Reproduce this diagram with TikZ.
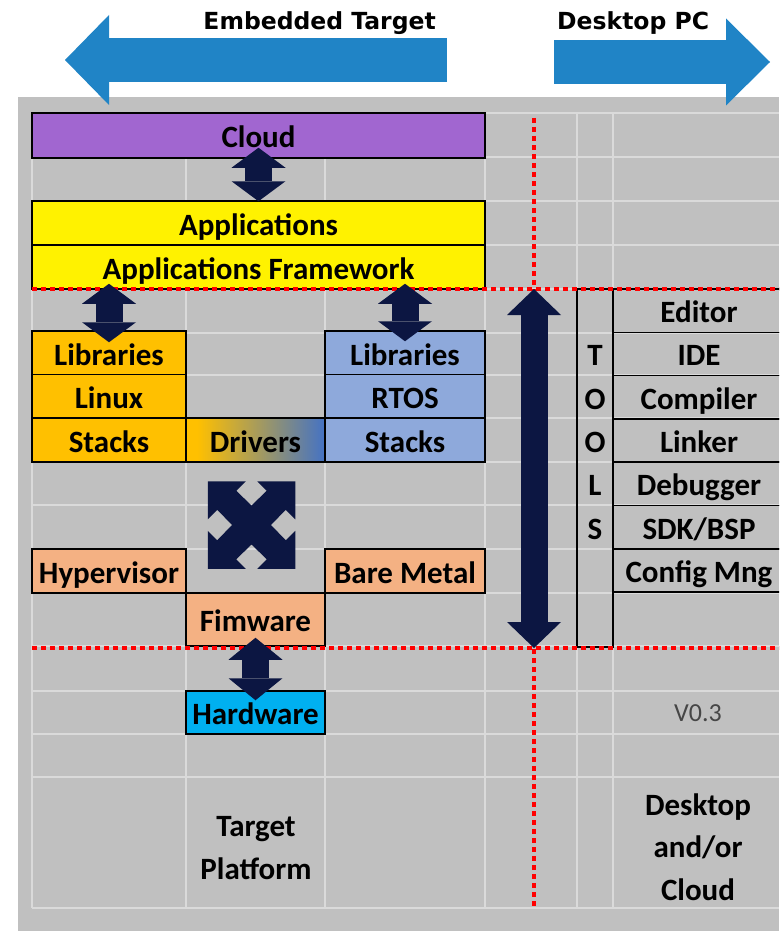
\documentclass[tikz,border=0pt]{standalone}
\usepackage{fontspec}
\setmainfont{Carlito}
\newfontfamily\headfont{DejaVu Sans}
\usepackage{xcolor}
\usepackage{tikz}
\usetikzlibrary{arrows.meta, calc}
\definecolor{panel}{RGB}{192,192,192}
\definecolor{gridgrey}{RGB}{218,218,218}
\definecolor{navy}{RGB}{12,22,66}
\definecolor{sky}{RGB}{32,132,198}
\definecolor{cloudpurple}{RGB}{161,102,208}
\definecolor{ambr}{RGB}{255,192,0}
\definecolor{rtosblue}{RGB}{142,169,219}
\definecolor{steel}{RGB}{68,114,196}
\definecolor{salmon}{RGB}{244,177,131}
\definecolor{hwcyan}{RGB}{0,176,240}
\definecolor{vergrey}{RGB}{70,70,70}
\pgfdeclarehorizontalshading{drivershade}{100bp}{color(0bp)=(ambr); color(29bp)=(ambr); color(75bp)=(steel); color(100bp)=(steel)}
\newcommand\lbl{\fontsize{31}{31}\selectfont\bfseries}
\newcommand\hdr{\headfont\fontsize{23.5}{24}\selectfont\bfseries}
\tikzset{
    cell/.style={draw=black, line width=1.5pt, inner sep=0pt, minimum height=44pt,
        text height=25pt, text depth=1pt, font=\lbl},
    letter/.style={inner sep=0pt, text height=25pt, text depth=1pt, font=\lbl},
    gridline/.style={gridgrey, line width=2pt},
    divider/.style={red, line width=4.5pt, dash pattern=on 5pt off 4pt},
    link/.style={navy, line width=27pt,
        {Triangle[width=54pt, length=#1, line width=0pt]}-{Triangle[width=54pt, length=#1, line width=0pt]}},
    link/.default=20pt,
    banner/.style={sky, line width=44pt, -{Triangle[width=#1, length=44pt, line width=0pt]}},
    caption/.style={inner sep=0pt, font=\hdr},
}

\begin{document}
\begin{tikzpicture}[x=1pt, y=-1pt]
    \useasboundingbox (0,0) rectangle (779,931);
    \clip (0,0) rectangle (779,931);
    \fill[panel] (18,97) rectangle (779,931);
    \foreach \x in {32,186,325,485,577,613} \draw[gridline] (\x,113) -- (\x,908);
    \foreach \y in {113,157,201,245,289,333,375,418,462,505,549,593,646,691,734,777,908}
        \draw[gridline] (32,\y) -- (779,\y);

    \coordinate (embtail) at (447,60);
    \coordinate (embtip) at (65,60);
    \coordinate (pctail) at (554,62);
    \coordinate (pctip) at (770,62);
    \draw[banner=90pt] (embtail) -- (embtip);
    \draw[banner=87pt] (pctail) -- (pctip);
    \node[caption, anchor=base east] (embtext) at (436,30) {Embedded Target};
    \node[caption, anchor=base west] (pctext) at (557,30) {Desktop PC};

    \node[cell, fill=cloudpurple, minimum width=453pt, minimum height=45pt] (cloud) at (258.5,135.5) {Cloud};
    \node[cell, fill=yellow, minimum width=453pt] (apps) at (258.5,223) {Applications};
    \node[cell, fill=yellow, minimum width=453pt] (frame) at (258.5,267) {Applications Framework};
    \foreach \name/\txt/\y in {libL/Libraries/353, linux/Linux/396.5, stackL/Stacks/440}
        \node[cell, fill=ambr, minimum width=154pt] (\name) at (109,\y) {\txt};
    \foreach \name/\txt/\y in {libR/Libraries/353, rtos/RTOS/396.5, stackR/Stacks/440}
        \node[cell, fill=rtosblue, minimum width=160pt] (\name) at (405,\y) {\txt};
    \node[cell, shade, shading=drivershade, minimum width=139pt] (drivers) at (255.5,440) {Drivers};
    \node[cell, fill=salmon, minimum width=154pt] (hyper) at (109,571) {Hypervisor};
    \node[cell, fill=salmon, minimum width=160pt] (bare) at (405,571) {Bare Metal};
    \node[cell, fill=salmon, minimum width=139pt, minimum height=53pt] (firm) at (255.5,619.5) {Fimware};
    \node[cell, fill=hwcyan, minimum width=139pt, minimum height=43pt] (hard) at (255.5,712.5) {Hardware};

    \coordinate (quad) at (251.5,525);
    \fill[navy, shift={(quad)}] (-43.75,-43.75) -- (-5.75,-43.75) -- (-15.25,-34.25) -- (0,-19.5)
        -- (15.25,-34.25) -- (5.75,-43.75) -- (43.75,-43.75) -- (43.75,-5.75) -- (34.25,-15.25)
        -- (19.5,0) -- (34.25,15.25) -- (43.75,5.75) -- (43.75,43.75) -- (5.75,43.75)
        -- (15.25,34.25) -- (0,19.5) -- (-15.25,34.25) -- (-5.75,43.75) -- (-43.75,43.75)
        -- (-43.75,5.75) -- (-34.25,15.25) -- (-19.5,0) -- (-34.25,-15.25) -- (-43.75,-5.75) -- cycle;

    \node[draw=black, line width=1.5pt, inner sep=0pt, minimum width=36pt, minimum height=358pt] (tools) at (595,468) {};
    \foreach \txt [count=\i from 0] in {Editor,IDE,Compiler,Linker,Debugger,SDK/BSP,Config Mng}
        \node[cell, minimum width=172pt, minimum height=43.3pt] (tool\i) at ({699},{310.65+43.3*\i}) {\txt};
    \foreach \c [count=\i] in {T,O,O,L,S}
        \node[letter] (toolsletter\i) at ({595},{310.65+43.3*\i}) {\c};

    \draw[divider] (32,289) -- (779,289);
    \draw[divider] (32,648) -- (779,648);
    \draw[divider] (534,118) -- (534,908);

    \coordinate (sepTop) at (534,289);
    \coordinate (sepBot) at (534,648);
    \draw[link] ($(cloud.south)+(0,-11)$) -- ($(apps.north)+(0,1)$);
    \draw[link] ($(libL.north |- frame.south)+(0,-6)$) -- ($(libL.north)+(0,12)$);
    \draw[link] ($(libR.north |- frame.south)+(0,-6)$) -- ($(libR.north)+(0,11)$);
    \draw[link=22pt] ($(firm.south)+(0,-9)$) -- ($(hard.north)+(0,10)$);
    \draw[link=26pt] (sepTop) -- (sepBot);

    \node[font=\fontsize{26}{26}\selectfont, text=vergrey, inner sep=0pt] (version) at (698,713.5) {V0.3};
    \node[font=\fontsize{31}{43}\selectfont\bfseries, align=center, inner sep=0pt] (target) at (256,848) {Target\\Platform};
    \node[font=\fontsize{31}{42.5}\selectfont\bfseries, align=center, inner sep=0pt] (desktop) at (698,847) {Desktop\\and/or\\Cloud};
\end{tikzpicture}
\end{document}
